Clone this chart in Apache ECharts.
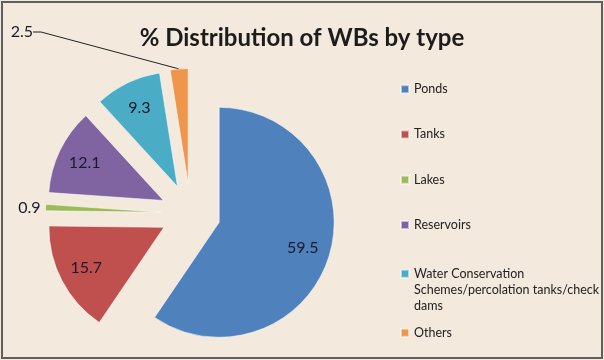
<!DOCTYPE html>
<html><head><meta charset="utf-8">
<script src="https://cdn.jsdelivr.net/npm/echarts@6/dist/echarts.min.js"></script>
<style>
html,body{margin:0;padding:0;background:#fff;}
#chart{position:absolute;left:0;top:0;width:604px;height:360px;}
#frame{position:absolute;left:1px;top:1px;width:602px;height:358px;box-sizing:border-box;border:2px solid #5f5f5f;pointer-events:none;}
</style></head><body>
<div id="chart"></div><div id="frame"></div>
<script>
const titleText = '% Distribution of WBs by type';
const categories = ['Ponds', 'Tanks', 'Lakes', 'Reservoirs', 'Water Conservation Schemes/percolation tanks/check dams', 'Others'];
const legendLabels = ['Ponds', 'Tanks', 'Lakes', 'Reservoirs', '\n\nWater Conservation\nSchemes/percolation tanks/check\ndams', 'Others'];
const values = [59.5, 15.7, 0.9, 12.1, 9.3, 2.5];
const colors = ['#4F81BD', '#C0504D', '#9BBB59', '#8064A2', '#4BACC6', '#F0954C'];
const outsideNoLine = ['Lakes'];
const outsideWithLine = ['Others'];

const FONT = 'Lato';
const center = [190.5, 213.5];
const chart = echarts.init(document.getElementById('chart'), null, {renderer: 'canvas'});

const legendBase = {
  orient: 'vertical', left: 400, itemWidth: 8, itemHeight: 8, padding: 0,
  icon: 'rect', selectedMode: false,
  formatter: n => legendLabels[categories.indexOf(n)],
  textStyle: {fontFamily: FONT, fontSize: 12.5, lineHeight: 16.3, color: '#222'}
};

const sliceData = categories.map((n, i) => ({
  name: n, value: values[i], selected: true, itemStyle: {color: colors[i]}
}));

// label ring: unexploded, its radii shifted outward by the explosion distance
const labelData = categories.map((n, i) => {
  const d = {name: n, value: values[i]};
  if (outsideNoLine.includes(n)) {
    d.label = {position: 'outside'};
    d.labelLine = {show: false, length: 0, length2: 0};
  } else if (outsideWithLine.includes(n)) {
    d.label = {position: 'outside', padding: [0, 4, 0, 0]};
    d.labelLine = {show: true, length: 10, length2: 8, lineStyle: {color: '#222', width: 1}};
  }
  return d;
});

chart.setOption({
  animation: false,
  backgroundColor: '#F3E9DD',
  title: {
    text: titleText, left: 'center', top: 26, padding: 0,
    textStyle: {fontFamily: FONT, fontSize: 24, fontWeight: 'bold', color: '#1c1c1c'}
  },
  legend: [
    Object.assign({}, legendBase, {top: 81, itemGap: 29, data: categories.slice(0, 4)}),
    Object.assign({}, legendBase, {top: 233, data: [categories[4]]}),
    Object.assign({}, legendBase, {top: 324.7, data: [categories[5]]})
  ],
  series: [
    {
      type: 'pie', center: center, radius: 115, startAngle: 90, clockwise: true,
      selectedMode: 'multiple', selectedOffset: 30, avoidLabelOverlap: false,
      silent: true, emphasis: {disabled: true},
      label: {show: false}, labelLine: {show: false},
      itemStyle: {borderColor: 'rgba(255,255,255,0.55)', borderWidth: 1},
      data: sliceData
    },
    {
      type: 'pie', center: center, radius: [84, 145], startAngle: 90, clockwise: true,
      avoidLabelOverlap: false, selectedMode: false,
      silent: true, emphasis: {disabled: true},
      itemStyle: {color: 'rgba(0,0,0,0)', borderWidth: 0},
      label: {show: true, position: 'inside', formatter: p => p.value.toFixed(1),
              fontFamily: FONT, fontSize: 16, color: '#1a1a2a'},
      labelLine: {show: false},
      labelLayout: function (p) {
        if (p.dataIndex === 5) {
          return {x: 37, y: 32, align: 'right', verticalAlign: 'middle'};
        }
      },
      data: labelData
    }
  ]
});
</script></body></html>
